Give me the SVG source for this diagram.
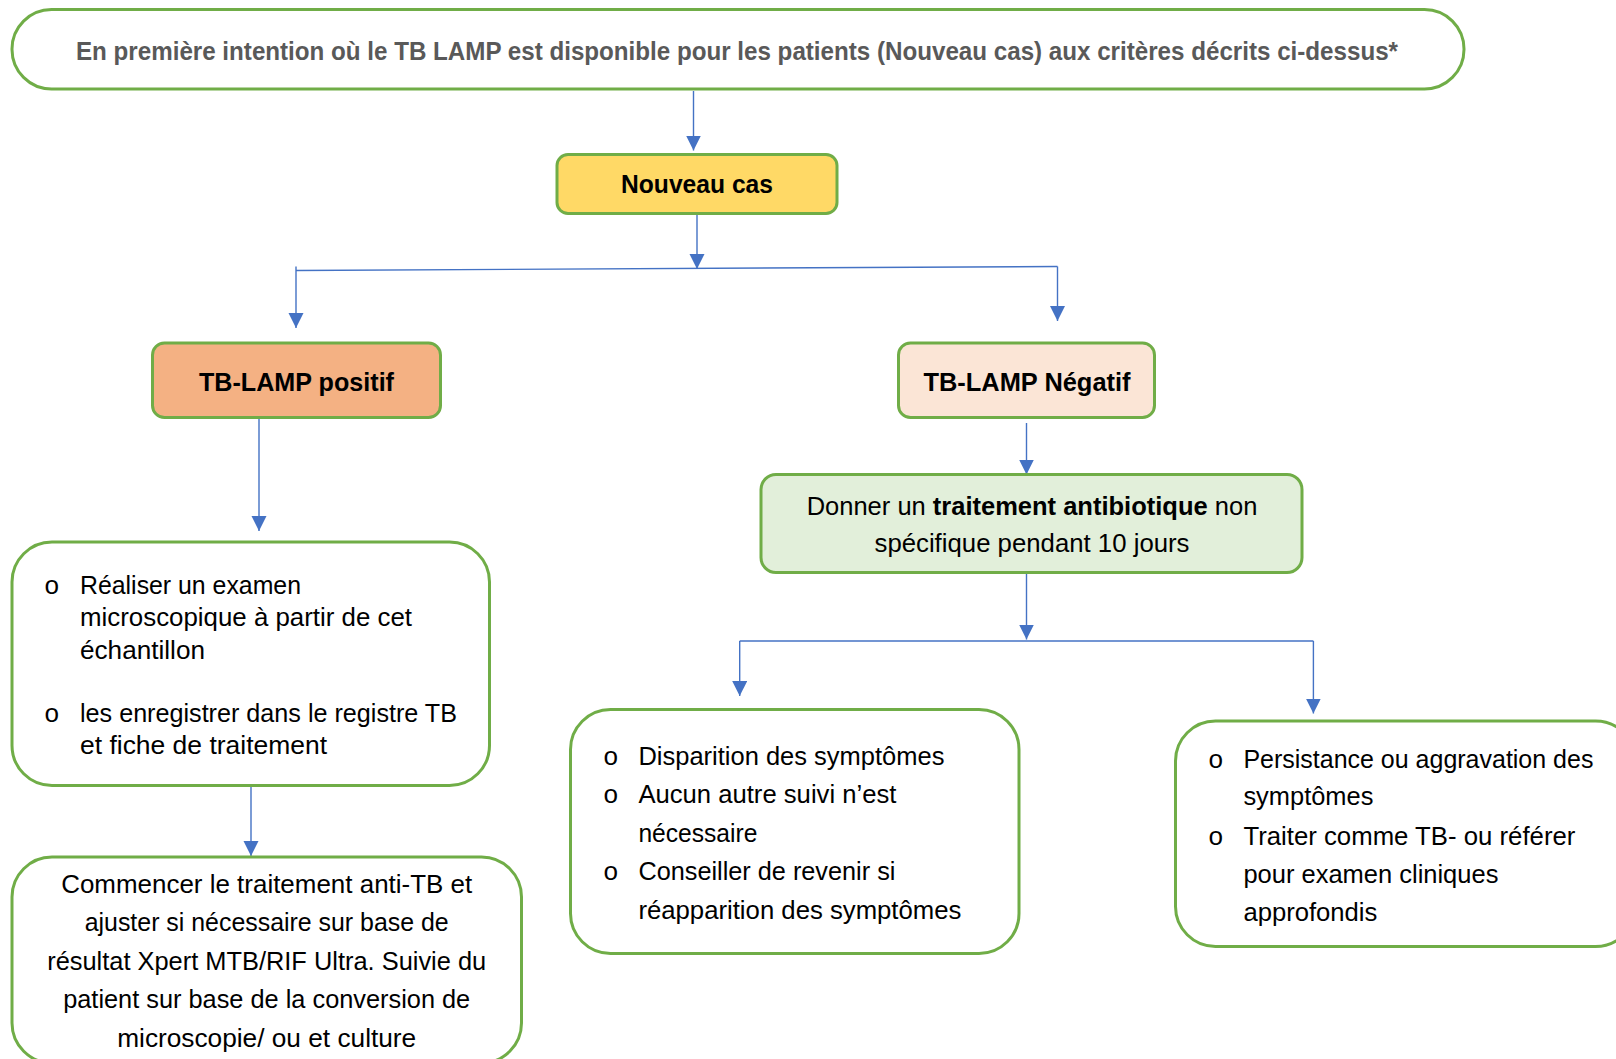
<svg xmlns="http://www.w3.org/2000/svg" width="1616" height="1059" viewBox="0 0 1616 1059">
<defs>
<marker id="arr" markerUnits="userSpaceOnUse" markerWidth="16" markerHeight="16" refX="15" refY="7.5" orient="auto">
<path d="M0,0 L15,7.5 L0,15 z" fill="#4472C4"/>
</marker>
<style>
.box{stroke:#70AD47;stroke-width:3;}
.t{font-family:"Liberation Sans",Arial,sans-serif;font-size:26px;fill:#000;}
.b{font-family:"Liberation Sans",Arial,sans-serif;font-size:25px;font-weight:bold;fill:#000;}
.bul{font-family:"Liberation Mono","Courier New",monospace;font-size:26px;fill:#000;}
.c{fill:none;stroke:#4472C4;stroke-width:1.4;}
.m{text-anchor:middle;}
</style>
</defs>
<rect width="1616" height="1059" fill="#fff"/>

<g id="connectors">
<path class="c" d="M693.5,91 L693.5,150.5" marker-end="url(#arr)"/>
<path class="c" d="M697,213.5 L697,269" marker-end="url(#arr)"/>
<path class="c" d="M296,270.5 L1057.5,266.5"/>
<path class="c" d="M296,266.5 L296,328" marker-end="url(#arr)"/>
<path class="c" d="M1057.5,266.5 L1057.5,321" marker-end="url(#arr)"/>
<path class="c" d="M259,418 L259,531" marker-end="url(#arr)"/>
<path class="c" d="M1026.5,423 L1026.5,474.5" marker-end="url(#arr)"/>
<path class="c" d="M1026.5,573 L1026.5,639.5" marker-end="url(#arr)"/>
<path class="c" d="M739.7,641 L1313.4,641"/>
<path class="c" d="M739.7,641 L739.7,696" marker-end="url(#arr)"/>
<path class="c" d="M1313.4,641 L1313.4,713.5" marker-end="url(#arr)"/>
<path class="c" d="M251,786 L251,856" marker-end="url(#arr)"/>
</g>

<g id="node-top">
<rect class="box" x="12" y="9.5" width="1452" height="79.5" rx="39.5" fill="#fff"/>
<text class="b m" x="737" y="60" style="fill:#595959" textLength="1322" lengthAdjust="spacingAndGlyphs">En première intention où le TB LAMP est disponible pour les patients (Nouveau cas) aux critères décrits ci-dessus*</text>
</g>

<g id="node-nouveau">
<rect class="box" x="557" y="154.5" width="280" height="59" rx="11" fill="#FFD966"/>
<text class="b m" x="697" y="193" textLength="152" lengthAdjust="spacingAndGlyphs">Nouveau cas</text>
</g>

<g id="node-positif">
<rect class="box" x="152.5" y="343" width="288" height="74.5" rx="12" fill="#F4B183"/>
<text class="b m" x="296.5" y="391" textLength="195" lengthAdjust="spacingAndGlyphs">TB-LAMP positif</text>
</g>

<g id="node-negatif">
<rect class="box" x="898.5" y="343" width="256" height="74.5" rx="12" fill="#FBE5D6"/>
<text class="b m" x="1027" y="391" textLength="207" lengthAdjust="spacingAndGlyphs">TB-LAMP Négatif</text>
</g>

<g id="node-antibio">
<rect class="box" x="761" y="474.5" width="541" height="98" rx="15" fill="#E2EFDA"/>
<text class="t m" x="1032" y="515" style="font-size:25.5px">Donner un <tspan font-weight="bold">traitement antibiotique</tspan> non</text>
<text class="t m" x="1032" y="552" textLength="315" lengthAdjust="spacingAndGlyphs">spécifique pendant 10 jours</text>
</g>

<g id="node-realiser">
<rect class="box" x="12" y="542" width="477.5" height="243.5" rx="40" fill="#fff"/>
<text class="bul" x="44" y="594">o</text>
<text class="t" x="80" y="594" textLength="221" lengthAdjust="spacingAndGlyphs">Réaliser un examen</text>
<text class="t" x="80" y="626" textLength="332" lengthAdjust="spacingAndGlyphs">microscopique à partir de cet</text>
<text class="t" x="80" y="659" textLength="125" lengthAdjust="spacingAndGlyphs">échantillon</text>
<text class="bul" x="44" y="722">o</text>
<text class="t" x="80" y="722" textLength="377" lengthAdjust="spacingAndGlyphs">les enregistrer dans le registre TB</text>
<text class="t" x="80" y="754" textLength="247" lengthAdjust="spacingAndGlyphs">et fiche de traitement</text>
</g>

<g id="node-commencer">
<rect class="box" x="12" y="857" width="509.5" height="206" rx="40" fill="#fff"/>
<text class="t m" x="266.7" y="893" textLength="411" lengthAdjust="spacingAndGlyphs">Commencer le traitement anti-TB et</text>
<text class="t m" x="266.7" y="931" textLength="364" lengthAdjust="spacingAndGlyphs">ajuster si nécessaire sur base de</text>
<text class="t m" x="266.7" y="970" textLength="439" lengthAdjust="spacingAndGlyphs">résultat Xpert MTB/RIF Ultra. Suivie du</text>
<text class="t m" x="266.7" y="1008" textLength="407" lengthAdjust="spacingAndGlyphs">patient sur base de la conversion de</text>
<text class="t m" x="266.7" y="1047" textLength="299" lengthAdjust="spacingAndGlyphs">microscopie/ ou et culture</text>
</g>

<g id="node-disparition">
<rect class="box" x="570.5" y="709.5" width="448.5" height="244" rx="40" fill="#fff"/>
<text class="bul" x="603" y="765">o</text>
<text class="t" x="638.4" y="765" textLength="306" lengthAdjust="spacingAndGlyphs">Disparition des symptômes</text>
<text class="bul" x="603" y="803">o</text>
<text class="t" x="638.4" y="803" textLength="258" lengthAdjust="spacingAndGlyphs">Aucun autre suivi n’est</text>
<text class="t" x="638.4" y="842" textLength="119" lengthAdjust="spacingAndGlyphs">nécessaire</text>
<text class="bul" x="603" y="880">o</text>
<text class="t" x="638.4" y="880" textLength="257" lengthAdjust="spacingAndGlyphs">Conseiller de revenir si</text>
<text class="t" x="638.4" y="919" textLength="323" lengthAdjust="spacingAndGlyphs">réapparition des symptômes</text>
</g>

<g id="node-persistance">
<rect class="box" x="1175.5" y="721" width="460" height="225.5" rx="40" fill="#fff"/>
<text class="bul" x="1208" y="768">o</text>
<text class="t" x="1243.4" y="768" textLength="350" lengthAdjust="spacingAndGlyphs">Persistance ou aggravation des</text>
<text class="t" x="1243.4" y="805" textLength="130" lengthAdjust="spacingAndGlyphs">symptômes</text>
<text class="bul" x="1208" y="845">o</text>
<text class="t" x="1243.4" y="845" textLength="332" lengthAdjust="spacingAndGlyphs">Traiter comme TB- ou référer</text>
<text class="t" x="1243.4" y="883" textLength="255" lengthAdjust="spacingAndGlyphs">pour examen cliniques</text>
<text class="t" x="1243.4" y="921" textLength="134" lengthAdjust="spacingAndGlyphs">approfondis</text>
</g>
</svg>
